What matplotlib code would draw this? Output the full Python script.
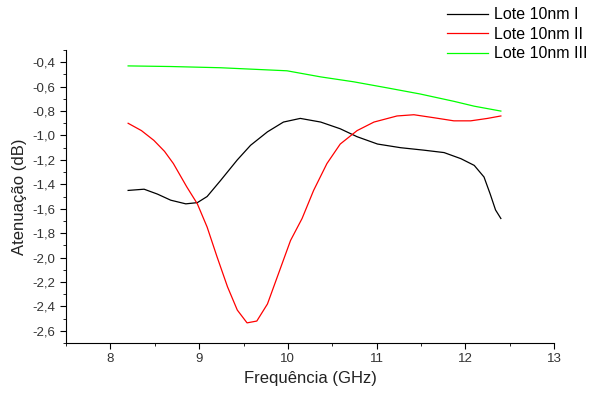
import matplotlib
matplotlib.use("Agg")
import matplotlib.pyplot as plt
from matplotlib.ticker import MultipleLocator, FuncFormatter

plt.rcParams['font.family'] = ['Liberation Sans', 'DejaVu Sans']

# Lote 10nm I
freq_1 = [8.2, 8.38, 8.53, 8.68, 8.85, 8.98, 9.09, 9.24, 9.43, 9.58, 9.77, 9.95, 10.14,
          10.37, 10.59, 10.78, 11.01, 11.27, 11.53, 11.76, 11.95, 12.10, 12.21, 12.28,
          12.34, 12.40]
aten_1 = [-1.45, -1.44, -1.48, -1.53, -1.56, -1.55, -1.50, -1.37, -1.20, -1.08, -0.97,
          -0.89, -0.86, -0.89, -0.945, -1.01, -1.07, -1.10, -1.12, -1.14, -1.19, -1.245,
          -1.34, -1.48, -1.61, -1.68]

# Lote 10nm II
freq_2 = [8.2, 8.35, 8.49, 8.61, 8.71, 8.86, 8.98, 9.09, 9.20, 9.32, 9.43, 9.54, 9.65,
          9.77, 9.88, 10.03, 10.16, 10.29, 10.44, 10.59, 10.78, 10.97, 11.23, 11.42,
          11.65, 11.87, 12.06, 12.25, 12.40]
aten_2 = [-0.90, -0.96, -1.04, -1.13, -1.23, -1.42, -1.56, -1.75, -1.99, -2.24, -2.43,
          -2.535, -2.52, -2.38, -2.16, -1.86, -1.68, -1.45, -1.23, -1.07, -0.96, -0.89,
          -0.84, -0.83, -0.855, -0.88, -0.88, -0.86, -0.84]

# Lote 10nm III
freq_3 = [8.2, 8.68, 9.24, 9.69, 9.99, 10.37, 10.74, 11.12, 11.49, 11.87, 12.10, 12.40]
aten_3 = [-0.43, -0.435, -0.445, -0.46, -0.47, -0.52, -0.56, -0.61, -0.66, -0.72, -0.76,
          -0.80]

fig = plt.figure(figsize=(5.92, 3.94), dpi=100)
ax = fig.add_axes([0.1115, 0.1294, 0.8245, 0.7436])

l1, = ax.plot(freq_1, aten_1, color='black', lw=0.9)
l2, = ax.plot(freq_2, aten_2, color='#ff0000', lw=0.9)
l3, = ax.plot(freq_3, aten_3, color='#00ff00', lw=0.9)

ax.set_xlim(7.5, 13)
ax.set_ylim(-2.7, -0.3)
ax.xaxis.set_major_locator(MultipleLocator(1))
ax.xaxis.set_minor_locator(MultipleLocator(0.5))
ax.yaxis.set_major_locator(MultipleLocator(0.2))
ax.yaxis.set_minor_locator(MultipleLocator(0.1))
ax.yaxis.set_major_formatter(FuncFormatter(lambda v, p: f"{v:.1f}".replace('.', ',')))

for s in ['top', 'right']:
    ax.spines[s].set_visible(False)
ax.tick_params(which='both', direction='out', labelsize=9.5, labelcolor='#333333')
ax.tick_params(which='major', length=4)
ax.tick_params(which='minor', length=2.5)

ax.set_xlabel('Frequência (GHz)', fontsize=12, color='#222222')
ax.set_ylabel('Atenuação (dB)', fontsize=12, color='#222222')

fig.legend([l1, l2, l3], ['Lote 10nm I', 'Lote 10nm II', 'Lote 10nm III'],
           loc='upper left', bbox_to_anchor=(0.730, 1.018), frameon=False,
           fontsize=11.5, handlelength=2.6, handletextpad=0.35, labelspacing=0.28)

fig.savefig('out.png', dpi=100)
